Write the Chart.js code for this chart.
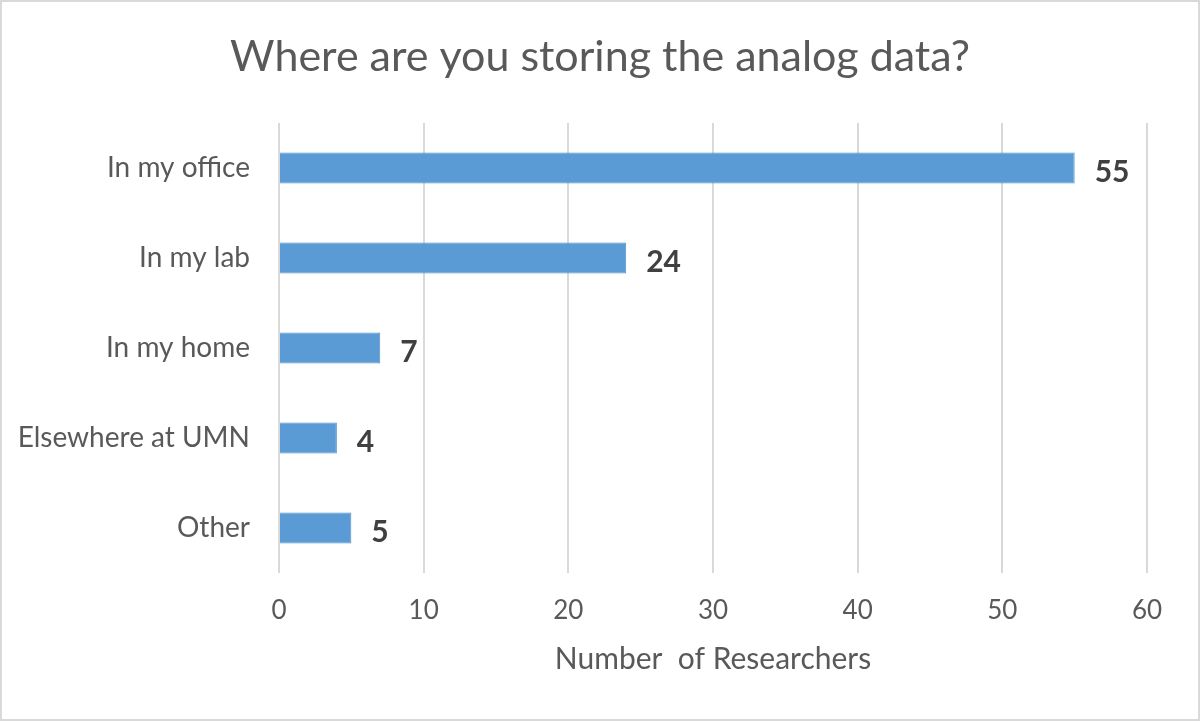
<!DOCTYPE html>
<html>
<head>
<meta charset="utf-8">
<script src="https://cdn.jsdelivr.net/npm/chart.js@4"></script>
<style>
  html, body { margin: 0; padding: 0; background: #fff; }
  #wrap { width: 1200px; height: 721px; }
</style>
</head>
<body>
<div id="wrap"><canvas id="c" width="1200" height="721"></canvas></div>
<script>
const categories = ["In my office", "In my lab", "In my home", "Elsewhere at UMN", "Other"];
const researchers = [55, 24, 7, 4, 5];
const xTicks = [0, 10, 20, 30, 40, 50, 60];

const FONT = "Lato, 'Open Sans', sans-serif";

const bgBorder = {
  id: 'bgBorder',
  beforeDraw(chart) {
    const ctx = chart.ctx;
    ctx.save();
    ctx.fillStyle = '#ffffff';
    ctx.fillRect(0, 0, chart.width, chart.height);
    ctx.strokeStyle = '#d9d9d9';
    ctx.lineWidth = 2;
    ctx.strokeRect(1, 1, chart.width - 2, chart.height - 2);
    ctx.restore();
  }
};

const valueLabels = {
  id: 'valueLabels',
  afterDatasetsDraw(chart) {
    const ctx = chart.ctx;
    const meta = chart.getDatasetMeta(0);
    ctx.save();
    ctx.font = "bold 30px " + FONT;
    ctx.fillStyle = '#404040';
    ctx.textAlign = 'left';
    ctx.textBaseline = 'middle';
    meta.data.forEach((el, i) => {
      ctx.fillText(String(chart.data.datasets[0].data[i]), el.x + 20, el.y + 4);
    });
    ctx.restore();
  }
};

new Chart(document.getElementById('c'), {
  type: 'bar',
  data: {
    labels: categories,
    datasets: [{
      data: researchers,
      backgroundColor: '#5b9bd5',
      borderColor: '#4f8fca',
      borderWidth: 1,
      categoryPercentage: 1,
      barPercentage: 0.345
    }]
  },
  options: {
    indexAxis: 'y',
    responsive: false,
    animation: false,
    devicePixelRatio: 1,
    layout: { padding: { top: 31, right: 0, bottom: 0, left: 0 } },
    plugins: {
      legend: { display: false },
      tooltip: { enabled: false },
      title: {
        display: true,
        text: 'Where are you storing the analog data?',
        color: '#595959',
        font: { family: FONT, size: 43, weight: 'normal' },
        padding: { top: 0, bottom: 40.4 }
      }
    },
    scales: {
      x: {
        min: 0, max: 60,
        afterBuildTicks(scale) { scale.ticks = xTicks.map(v => ({ value: v })); },
        afterFit(scale) { scale.height = 148; scale.paddingRight = 53; },
        grid: { color: '#d9d9d9', lineWidth: 2, drawTicks: false },
        border: { display: false },
        ticks: { color: '#595959', font: { family: FONT, size: 26 }, padding: 22 },
        title: {
          display: true,
          text: 'Number  of Researchers',
          color: '#595959',
          font: { family: FONT, size: 30 },
          padding: { top: 44, bottom: 44 }
        }
      },
      y: {
        afterFit(scale) { scale.width = 279; },
        grid: { display: false, drawTicks: false },
        border: { display: false },
        ticks: { color: '#595959', font: { family: FONT, size: 28 }, padding: 29 }
      }
    }
  },
  plugins: [bgBorder, valueLabels]
});
</script>
</body>
</html>
